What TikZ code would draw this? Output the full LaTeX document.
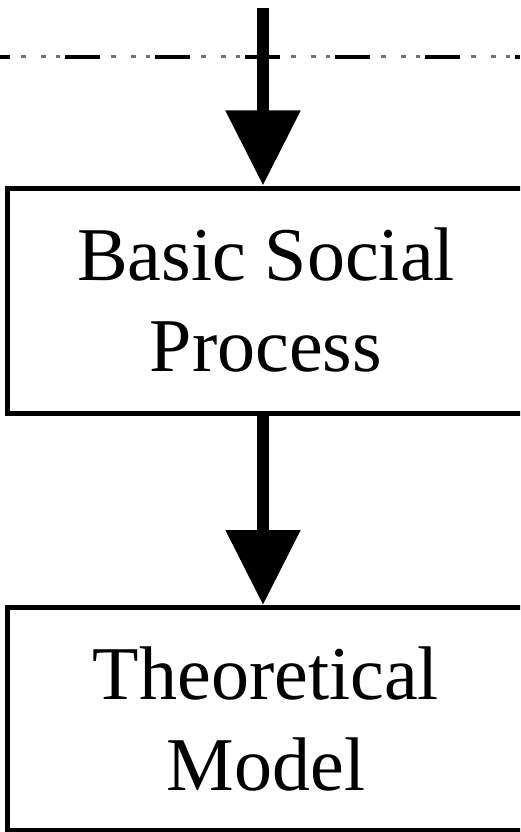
\documentclass[tikz,border=0pt]{standalone}
\usepackage{fontspec}
\setmainfont{Liberation Serif}
\usetikzlibrary{arrows.meta,positioning}

\tikzset{
	stagebox/.style={draw=black, line width=5pt, minimum width=517pt, align=center,
		font=\fontsize{76}{91}\selectfont, inner sep=0pt},
	flowarrow/.style={line width=12pt, -{Triangle[length=75pt,width=72pt]}},
	longdash/.style={line width=4pt, color=black, dash pattern=on 35pt off 55pt, dash phase=25pt},
	shortdash/.style={line width=3pt, color=black!55,
		dash pattern=on 5pt off 15pt on 5pt off 10pt on 4pt off 51pt, dash phase=69pt}
}

\begin{document}
\begin{tikzpicture}[x=1pt, y=-1pt]
			%%%%% START %%%%%
			
			\useasboundingbox (0, 0) rectangle (520, 832);
			\clip (0, 0) rectangle (520, 832);
			
			\coordinate (top) at (263, 8);
			\coordinate (dl) at (0, 57);
			\coordinate (dr) at (520, 57);
			
			\draw[shortdash] (dl) -- (dr);
			\draw[longdash] (dl) -- (dr);
			
			\node[stagebox, minimum height=225pt] (bsp) at (266, 300.5) {Basic Social\\Process};
			\node[stagebox, minimum height=222.5pt] (model) at (266, 718.75) {Theoretical\\Model};
			
			\draw[flowarrow] (top) -- (top |- bsp.north);
			\draw[flowarrow] (top |- bsp.south) -- (top |- model.north);
			
			%%%%% END %%%%%
\end{tikzpicture}
\end{document}
